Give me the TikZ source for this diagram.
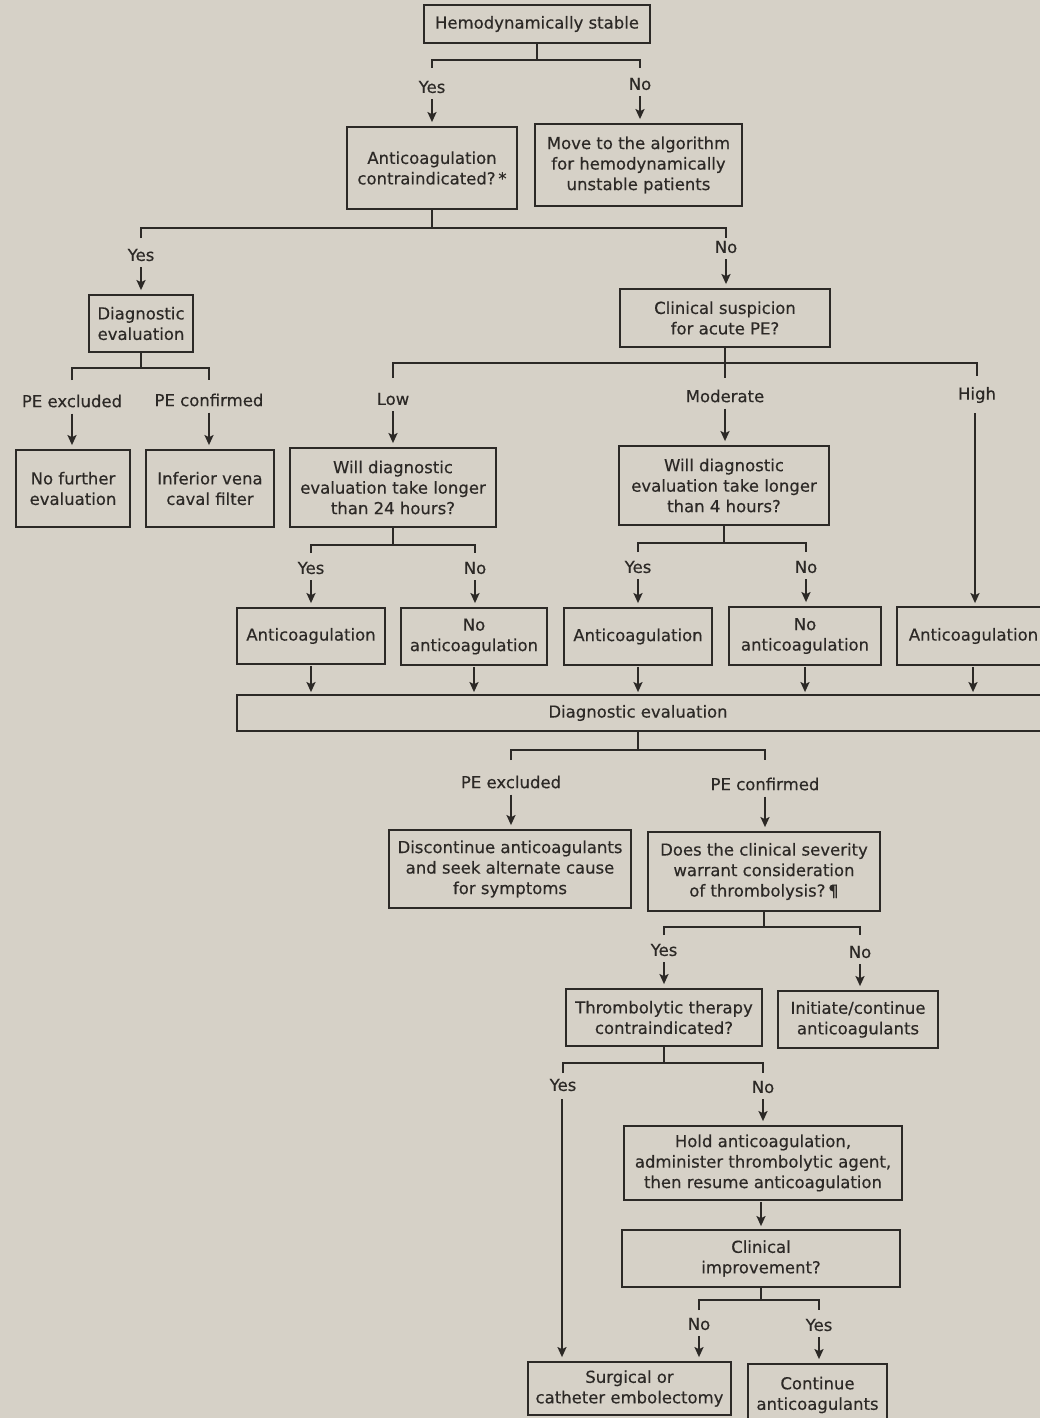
\documentclass[tikz,border=0pt]{standalone}
\usepackage{fontspec}
\setmainfont{DejaVu Sans}
\newfontfamily\boxfont{DejaVu Sans}[FakeBold=0.35]
\usetikzlibrary{arrows.meta}
\definecolor{paper}{RGB}{214,209,199}
\definecolor{ink}{RGB}{44,41,38}
\begin{document}
\begin{tikzpicture}[x=1pt,y=-1pt,
  every node/.style={text=ink, font=\boxfont\fontsize{16.5}{20.5}\selectfont},
  box/.style={draw=ink, line width=1.8pt, align=center, inner sep=2pt},
  lbl/.style={inner sep=2pt},
  ln/.style={draw=ink, line width=1.8pt},
  arr/.style={draw=ink, line width=1.8pt, -{Stealth[length=10pt,width=9pt,inset=2pt]}, shorten <=4pt, shorten >=4pt}]
\fill[paper] (0,0) rectangle (1040,1418);
\useasboundingbox (0,0) rectangle (1040,1418);

% boxes
\node[box, minimum width=226, minimum height=38] (hs) at (537,24) {Hemodynamically stable};
\node[box, minimum width=170, minimum height=82] (acc) at (432,168) {Anticoagulation\\contraindicated?\,*};
\node[box, minimum width=207, minimum height=82] (mv) at (638.5,165) {Move to the algorithm\\for hemodynamically\\unstable patients};
\node[box, minimum width=104, minimum height=57] (dl) at (141,323.5) {Diagnostic\\evaluation};
\node[box, minimum width=210, minimum height=58] (cs) at (725,318) {Clinical suspicion\\for acute PE?};
\node[box, minimum width=114, minimum height=77] (nfe) at (73,488.5) {No further\\evaluation};
\node[box, minimum width=128, minimum height=77] (ivc) at (210,488.5) {Inferior vena\\caval filter};
\node[box, minimum width=206, minimum height=79] (w24) at (393,487.5) {Will diagnostic\\evaluation take longer\\than 24 hours?};
\node[box, minimum width=210, minimum height=79] (w4) at (724,485.5) {Will diagnostic\\evaluation take longer\\than 4 hours?};
\node[box, minimum width=148, minimum height=56] (a1) at (311,636) {Anticoagulation};
\node[box, minimum width=146, minimum height=57] (a2) at (474,636.5) {No\\anticoagulation};
\node[box, minimum width=148, minimum height=57] (a3) at (638,636.5) {Anticoagulation};
\node[box, minimum width=152, minimum height=58] (a4) at (805,636) {No\\anticoagulation};
\node[box, minimum width=153, minimum height=58] (a5) at (973.5,636) {Anticoagulation};
\node[box, minimum width=813, minimum height=36] (de) at (643.5,713) {Diagnostic evaluation\hspace*{11pt}};
\node[box, minimum width=242, minimum height=78] (disc) at (510,869) {Discontinue anticoagulants\\and seek alternate cause\\for symptoms};
\node[box, minimum width=232, minimum height=79] (sev) at (764,871.5) {Does the clinical severity\\warrant consideration\\of thrombolysis?\,¶};
\node[box, minimum width=196, minimum height=57] (thr) at (664,1017.5) {Thrombolytic therapy\\contraindicated?};
\node[box, minimum width=160, minimum height=57] (init) at (858,1019.5) {Initiate/continue\\anticoagulants};
\node[box, minimum width=278, minimum height=74] (hold) at (763,1163) {Hold anticoagulation,\\administer thrombolytic agent,\\then resume anticoagulation};
\node[box, minimum width=278, minimum height=57] (ci) at (761,1258.5) {Clinical\\improvement?};
\node[box, minimum width=203, minimum height=53] (surg) at (629.5,1388.5) {Surgical or\\catheter embolectomy};
\node[box, minimum width=139, minimum height=62] (cont) at (817.5,1395) {Continue\\anticoagulants};

% labels
\node[lbl] (y1) at (432,87) {Yes};
\node[lbl] (n1) at (640,84) {No};
\node[lbl] (y2) at (141,255) {Yes};
\node[lbl] (n2) at (726,247) {No};
\node[lbl] (pex1) at (72,401) {PE excluded};
\node[lbl] (pco1) at (209,400) {PE confirmed};
\node[lbl] (low) at (393,399) {Low};
\node[lbl] (mod) at (725,396) {Moderate};
\node[lbl] (high) at (977,395) {High};
\node[lbl] (y3) at (311,568) {Yes};
\node[lbl] (n3) at (475,568) {No};
\node[lbl] (y4) at (638,567) {Yes};
\node[lbl] (n4) at (806,567) {No};
\node[lbl] (pex2) at (511,782) {PE excluded};
\node[lbl] (pco2) at (765,784) {PE confirmed};
\node[lbl] (y5) at (664,950) {Yes};
\node[lbl] (n5) at (860,952) {No};
\node[lbl] (y6) at (563,1085) {Yes};
\node[lbl] (n6) at (763,1087) {No};
\node[lbl] (n7) at (699,1324) {No};
\node[lbl] (y7) at (819,1325) {Yes};

% brackets
\draw[ln] (hs.south) -- (hs.south |- 0,60) coordinate (b1);
\draw[ln] (y1.north |- 0,68) |- (b1) -| (n1.north |- 0,68);
\draw[ln] (acc.south) -- (acc.south |- 0,228) coordinate (b2);
\draw[ln] (y2.north |- 0,238) |- (b2) -| (n2.north |- 0,238);
\draw[ln] (dl.south) -- (dl.south |- 0,368) coordinate (b3);
\draw[ln] (pex1.north |- 0,380) |- (b3) -| (pco1.north |- 0,380);
\draw[ln] (cs.south) -- (cs.south |- 0,378);
\draw[ln] (cs.south |- 0,363) coordinate (b4);
\draw[ln] (low.north |- 0,378) |- (b4) -| (high.north |- 0,376);
\draw[ln] (w24.south) -- (w24.south |- 0,545) coordinate (b5);
\draw[ln] (y3.north |- 0,553) |- (b5) -| (n3.north |- 0,553);
\draw[ln] (w4.south) -- (w4.south |- 0,543) coordinate (b6);
\draw[ln] (y4.north |- 0,552) |- (b6) -| (n4.north |- 0,552);
\draw[ln] (de.south -| 638,0) -- (638,750) coordinate (b7);
\draw[ln] (pex2.north |- 0,760) |- (b7) -| (pco2.north |- 0,760);
\draw[ln] (sev.south) -- (sev.south |- 0,927) coordinate (b8);
\draw[ln] (y5.north |- 0,935) |- (b8) -| (n5.north |- 0,935);
\draw[ln] (thr.south) -- (thr.south |- 0,1063) coordinate (b9);
\draw[ln] (y6.north |- 0,1073) |- (b9) -| (n6.north |- 0,1073);
\draw[ln] (ci.south) -- (ci.south |- 0,1300) coordinate (b10);
\draw[ln] (n7.north |- 0,1310) |- (b10) -| (y7.north |- 0,1310);

% arrows from labels
\draw[arr] (y1.south) -- (y1.south |- acc.north);
\draw[arr] (n1.south) -- (n1.south |- mv.north);
\draw[arr] (y2.south) -- (y2.south |- dl.north);
\draw[arr] (n2.south) -- (n2.south |- cs.north);
\draw[arr] (pex1.south) -- (pex1.south |- nfe.north);
\draw[arr] (pco1.south) -- (pco1.south |- ivc.north);
\draw[arr] (low.south) -- (low.south |- w24.north);
\draw[arr] (mod.south) -- (mod.south |- w4.north);
\draw[arr, shorten <=8pt, shorten >=3pt] (high.south -| 975,0) -- (975,0 |- a5.north);
\draw[arr] (y3.south) -- (y3.south |- a1.north);
\draw[arr] (n3.south) -- (n3.south |- a2.north);
\draw[arr] (y4.south) -- (y4.south |- a3.north);
\draw[arr] (n4.south) -- (n4.south |- a4.north);
\draw[arr] (pex2.south) -- (pex2.south |- disc.north);
\draw[arr] (pco2.south) -- (pco2.south |- sev.north);
\draw[arr] (y5.south) -- (y5.south |- thr.north);
\draw[arr] (n5.south) -- (n5.south |- init.north);
\draw[arr, shorten <=6pt] (y6.south -| 562,0) -- (562,0 |- surg.north);
\draw[arr] (n6.south) -- (n6.south |- hold.north);
\draw[arr, shorten <=1pt, shorten >=3pt] (hold.south -| 761,0) -- (761,0 |- ci.north);
\draw[arr] (n7.south) -- (n7.south |- surg.north);
\draw[arr] (y7.south) -- (y7.south |- cont.north);

% arrows into diagnostic evaluation
\draw[arr, shorten <=1pt, shorten >=2pt] (a1.south) -- (a1.south |- de.north);
\draw[arr, shorten <=1pt, shorten >=2pt] (a2.south) -- (a2.south |- de.north);
\draw[arr, shorten <=1pt, shorten >=2pt] (a3.south) -- (a3.south |- de.north);
\draw[arr, shorten <=1pt, shorten >=2pt] (a4.south) -- (a4.south |- de.north);
\draw[arr, shorten <=1pt, shorten >=2pt] (a5.south -| 973,0) -- (973,0 |- de.north);
\end{tikzpicture}
\end{document}
